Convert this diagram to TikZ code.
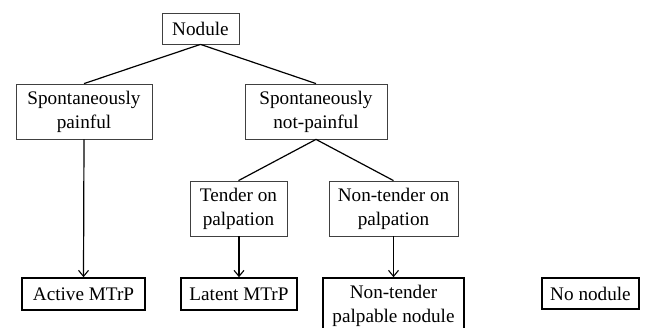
\documentclass[tikz,border=0pt]{standalone}
\usepackage{fontspec}
\setmainfont{Liberation Serif}
\usetikzlibrary{arrows.meta}
\begin{document}
\begin{tikzpicture}[x=1pt,y=-1pt,
  every node/.style={font=\fontsize{19.2}{24}\selectfont, inner sep=0pt, align=center},
  qbox/.style={draw=black!75, line width=0.8pt, minimum height=55pt},
  rbox/.style={draw=black, line width=1.6pt},
  link/.style={line width=1.2pt, black},
  arr/.style={link, -{Straight Barb[length=6pt,width=10pt,line width=1.1pt]}}]
\useasboundingbox (0,0) rectangle (647,328);
\node[qbox, minimum width=77pt, minimum height=31pt] (nodule) at (200.5,28.5) {Nodule};
\node[qbox, minimum width=136pt] (sp) at (84,111.5) {Spontaneously\\painful};
\node[qbox, minimum width=142pt] (snp) at (316,111.5) {Spontaneously\\not-painful};
\node[qbox, minimum width=97pt] (tender) at (238.5,208.5) {Tender on\\palpation};
\node[qbox, minimum width=129pt] (ntp) at (393.5,208.5) {Non-tender on\\palpation};
\node[rbox, minimum width=123pt, minimum height=32pt] (active) at (83.5,294) {Active MTrP};
\node[rbox, minimum width=116pt, minimum height=32pt] (latent) at (239,294) {Latent MTrP};
\node[rbox, minimum width=141pt, minimum height=55pt] (ntpn) at (393.5,305.5) {Non-tender\\palpable nodule};
\node[rbox, minimum width=97pt, minimum height=31pt] (none) at (590.5,293.5) {No nodule};
\draw[link] (nodule.south) -- (sp.north);
\draw[link] (nodule.south) -- (snp.north);
\draw[link] (snp.south) -- (tender.north);
\draw[link] (snp.south) -- (ntp.north);
\draw[arr] (sp.south) -- (active.north);
\draw[arr] (tender.south -| latent.north) -- (latent.north);
\draw[arr] (ntp.south) -- (ntpn.north);
\end{tikzpicture}
\end{document}
